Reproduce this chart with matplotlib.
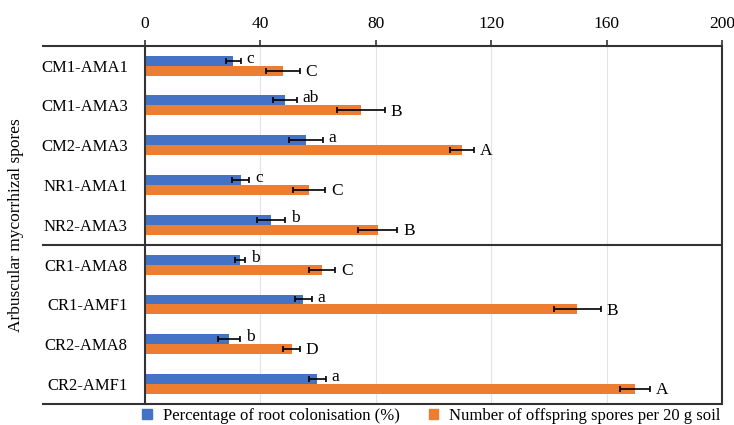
import matplotlib
matplotlib.use("Agg")
import matplotlib.pyplot as plt
from matplotlib.patches import Patch
import numpy as np

plt.rcParams['font.family'] = ['Liberation Serif', 'DejaVu Serif']

# isolates, top to bottom
isolates = ["CM1-AMA1", "CM1-AMA3", "CM2-AMA3", "NR1-AMA1", "NR2-AMA3",
            "CR1-AMA8", "CR1-AMF1", "CR2-AMA8", "CR2-AMF1"]

# root colonisation (%)
colon = [30.7, 48.6, 55.8, 33.3, 43.8, 33.0, 55.0, 29.3, 59.8]
colon_err = [2.6, 4.2, 5.9, 3.0, 4.8, 1.8, 2.9, 3.7, 3.0]
colon_letters = ["c", "ab", "a", "c", "b", "b", "a", "b", "a"]

# offspring spores per 20 g soil
spores = [47.9, 74.9, 110.0, 57.0, 80.7, 61.5, 149.8, 50.9, 169.8]
spores_err = [5.9, 8.4, 4.2, 5.6, 6.8, 4.6, 8.2, 2.9, 5.3]
spores_letters = ["C", "B", "A", "C", "B", "C", "B", "D", "A"]

blue = "#4472C4"
orange = "#ED7D31"
line_col = "#333333"
fs = 12.5

fig = plt.figure(figsize=(7.34, 4.25), dpi=100)
ax = fig.add_axes([0.1969, 0.0494, 0.7871, 0.8431])

y = np.arange(len(isolates))
h = 0.25
ax.barh(y - h / 2, colon, height=h, color=blue, zorder=2)
ax.barh(y + h / 2, spores, height=h, color=orange, zorder=2)
ax.errorbar(colon, y - h / 2, xerr=colon_err, fmt="none", ecolor="black",
            elinewidth=1.2, capsize=2.2, capthick=1.2, zorder=3)
ax.errorbar(spores, y + h / 2, xerr=spores_err, fmt="none", ecolor="black",
            elinewidth=1.2, capsize=2.2, capthick=1.2, zorder=3)

for i in range(len(isolates)):
    ax.text(colon[i] + colon_err[i] + 2.0, y[i] - h / 2 - 0.05, colon_letters[i],
            va="center", ha="left", fontsize=fs)
    ax.text(spores[i] + spores_err[i] + 2.0, y[i] + h / 2 + 0.03, spores_letters[i],
            va="center", ha="left", fontsize=fs)

ax.set_xlim(0, 200)
ax.set_ylim(len(isolates) - 0.5, -0.5)
ax.set_xticks([0, 40, 80, 120, 160, 200])
ax.xaxis.tick_top()
ax.tick_params(axis="x", length=4, width=1.2, color=line_col, labelsize=fs, pad=6)
ax.set_yticks(y)
ax.set_yticklabels(isolates, fontsize=12)
ax.tick_params(axis="y", length=0, pad=12)
ax.grid(axis="x", color="#e3e3e3", linewidth=0.8, zorder=0)
ax.set_axisbelow(True)

for side in ["top", "bottom"]:
    ax.spines[side].set_visible(False)
ax.spines["left"].set_color(line_col)
ax.spines["left"].set_linewidth(1.5)
ax.spines["right"].set_color(line_col)
ax.spines["right"].set_linewidth(1.5)

# horizontal rules that run out under the labels
x0 = -0.177
trans = ax.get_yaxis_transform()
for yy in [-0.5, 4.5, len(isolates) - 0.5]:
    ax.plot([x0, 1], [yy, yy], color=line_col, linewidth=1.5, transform=trans,
            clip_on=False, solid_capstyle="butt", zorder=4)

fig.text(0.022, 0.47, "Arbuscular mycorrhizal spores", rotation=90,
         va="center", ha="center", fontsize=fs)

handles = [Patch(color=blue, label="Percentage of root colonisation (%)"),
           Patch(color=orange, label="Number of offspring spores per 20 g soil")]
fig.legend(handles=handles, loc="lower center", bbox_to_anchor=(0.588, -0.033),
           ncol=2, frameon=False, fontsize=12, handlelength=0.55, handleheight=0.55,
           handletextpad=0.7, columnspacing=1.7)

fig.savefig("out.png", dpi=100)
